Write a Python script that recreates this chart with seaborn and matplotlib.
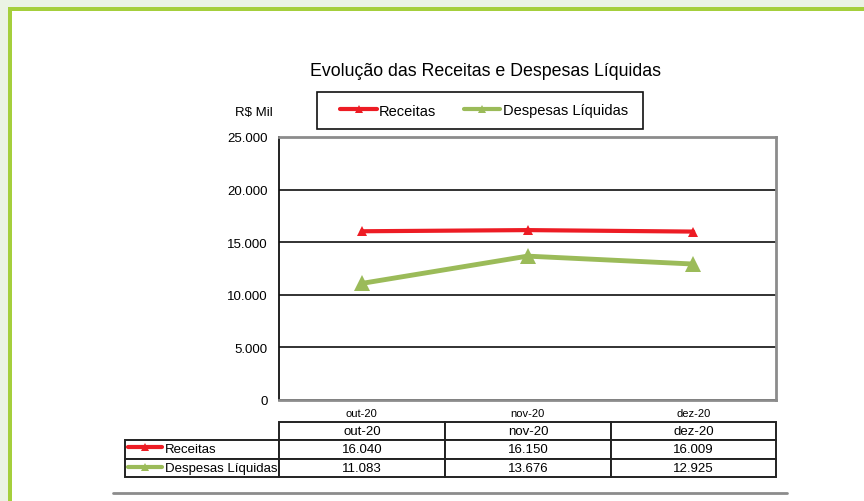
"""Evolução das Receitas e Despesas Líquidas - line chart with data table."""

import matplotlib

matplotlib.use("Agg")
import matplotlib.pyplot as plt
import pandas as pd
import seaborn as sns
from matplotlib.lines import Line2D
from matplotlib.patches import Rectangle

MESES = ["out-20", "nov-20", "dez-20"]
SERIES = ["Receitas", "Despesas Líquidas"]
RECEITAS = [16040, 16150, 16009]
DESPESAS = [11083, 13676, 12925]
Y_TICKS = [0, 5000, 10000, 15000, 20000, 25000]

COLORS = {"Receitas": "#ed1c24", "Despesas Líquidas": "#9bbb59"}
W, H = 864, 502


def fx(x):
    return x / W


def fy(y):
    return 1 - y / H


def fmt(v):
    return f"{v:,}".replace(",", ".")


df = pd.DataFrame(
    {
        "mes": MESES * 2,
        "serie": [SERIES[0]] * 3 + [SERIES[1]] * 3,
        "valor": RECEITAS + DESPESAS,
    }
)

sns.set_style("white")
plt.rcParams["font.family"] = ["Liberation Sans", "DejaVu Sans"]
plt.rcParams["text.color"] = "black"
plt.rcParams["xtick.labelcolor"] = "black"
plt.rcParams["ytick.labelcolor"] = "black"

fig = plt.figure(figsize=(W / 100, H / 100), dpi=100)
fig.patch.set_facecolor("#ebf3e4")

# green frame + white page
fig.add_artist(Rectangle((fx(8), 0), 1, fy(8), transform=fig.transFigure,
                         facecolor="#a5cf3c", edgecolor="none", zorder=-10))
fig.add_artist(Rectangle((fx(12), 0), 1, fy(12), transform=fig.transFigure,
                         facecolor="white", edgecolor="none", zorder=-9))

ax = fig.add_axes([fx(279), fy(401), (776 - 279) / W, (401 - 138) / H])
ax.set_facecolor("white")

sub_r = df[df["serie"] == "Receitas"]
sub_d = df[df["serie"] == "Despesas Líquidas"]
sns.lineplot(data=sub_r, x="mes", y="valor", color=COLORS["Receitas"], lw=3,
             marker="^", markersize=7, markeredgewidth=0, ax=ax, zorder=5)
sns.lineplot(data=sub_d, x="mes", y="valor", color=COLORS["Despesas Líquidas"], lw=3.5,
             marker="^", markersize=11, markeredgewidth=0, ax=ax, zorder=5)

ax.set_xlim(-0.5, 2.5)
ax.set_ylim(0, 25000)
ax.set_yticks(Y_TICKS, [fmt(v) for v in Y_TICKS])
ax.set_xticks(range(len(MESES)), MESES)
ax.set_xticks([-0.5, 0.5, 1.5, 2.5], minor=True)
ax.tick_params(axis="x", which="major", length=0, labelsize=8, pad=6)
ax.tick_params(axis="x", which="minor", length=4, direction="out", color="#808080", width=1.2)
ax.tick_params(axis="y", length=4, direction="out", color="#111111", width=1.2,
               labelsize=9.5, pad=4)
ax.set_xlabel("")
ax.set_ylabel("")
ax.grid(axis="y", color="#222222", lw=1.3, zorder=1)
ax.set_axisbelow(True)
for side in ["top", "right", "bottom"]:
    ax.spines[side].set_color("#8c8c8c")
    ax.spines[side].set_linewidth(2)
ax.spines["left"].set_color("#111111")
ax.spines["left"].set_linewidth(1.3)

fig.text(fx(485), fy(71), "Evolução das Receitas e Despesas Líquidas",
         ha="center", va="center", fontsize=12.8)
fig.text(fx(254), fy(113), "R$ Mil", ha="center", va="center", fontsize=9.5)

# legend
handles = [
    Line2D([], [], color=COLORS[s], lw=3, marker="^", markersize=6, markeredgewidth=0)
    for s in SERIES
]
ax.legend(handles, SERIES, loc="center", bbox_to_anchor=(fx(484), fy(111.5)),
          bbox_transform=fig.transFigure, ncol=2, frameon=False, fontsize=10.5,
          handlelength=2.5, handletextpad=0.15, columnspacing=1.9)
fig.add_artist(Rectangle((fx(317), fy(130)), (643 - 317) / W, (130 - 93) / H,
                         transform=fig.transFigure, fill=False, edgecolor="#111111",
                         lw=1.2, zorder=3))

# data table
cell_text = [
    [SERIES[0]] + [fmt(v) for v in RECEITAS],
    [SERIES[1]] + [fmt(v) for v in DESPESAS],
]
ax_h = 401 - 138
tbl = ax.table(
    cellText=cell_text,
    colLabels=[""] + MESES,
    colWidths=[154, 166, 166, 165],
    cellLoc="center",
    bbox=[(125 - 279) / 497, (401 - 478) / ax_h, 651 / 497, 55 / ax_h],
)
tbl.auto_set_font_size(False)
tbl.set_fontsize(9.5)
for (r, c), cell in tbl.get_celld().items():
    cell.set_edgecolor("#222222")
    cell.set_linewidth(1.4)
    cell.set_facecolor("white")
    cell.get_text().set_color("black")
    if r == 0 and c == 0:
        cell.visible_edges = ""
    elif c == 0:
        cell.get_text().set_ha("left")
        cell._loc = "left"
        cell.PAD = 40 / 154

# icons in the row label cells
for i, s in enumerate(SERIES):
    yy = fy(447.5 + i * 20)
    fig.add_artist(Line2D([fx(128), fx(145), fx(162)], [yy, yy, yy], color=COLORS[s],
                          lw=3, marker="^", markersize=6, markeredgewidth=0,
                          markevery=[1], transform=fig.transFigure, zorder=6))

# bottom rule
fig.add_artist(Line2D([fx(113), fx(787)], [fy(494), fy(494)], color="#8c8c8c", lw=2,
                      transform=fig.transFigure))

fig.savefig("out.png", dpi=100)
